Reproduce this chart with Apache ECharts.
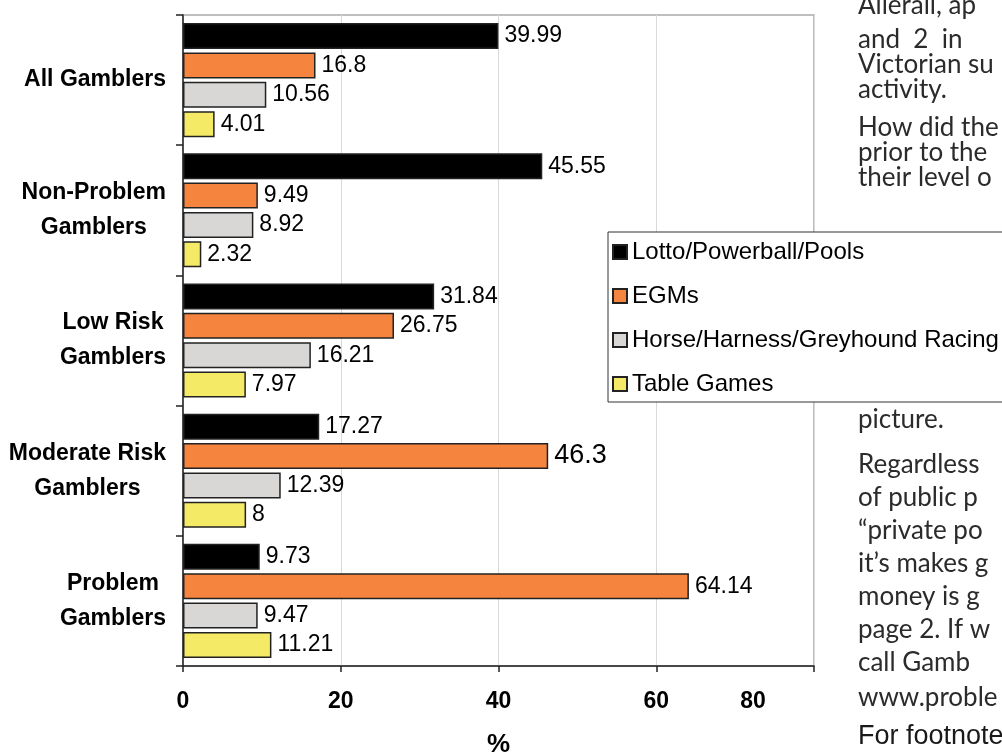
<!DOCTYPE html>
<html>
<head>
<meta charset="utf-8">
<script src="https://cdn.jsdelivr.net/npm/echarts@6/dist/echarts.min.js"></script>
<style>
html,body{margin:0;padding:0;background:#fff;}
#chart{width:1002px;height:755px;}
</style>
</head>
<body>
<div id="chart"></div>
<script>
// ---- data ----
const categories = ['All Gamblers', 'Non-Problem\nGamblers', 'Low Risk\nGamblers', 'Moderate Risk\nGamblers', 'Problem\nGamblers'];
const seriesNames = ['Lotto/Powerball/Pools', 'EGMs', 'Horse/Harness/Greyhound Racing', 'Table Games'];
const lotto = [39.99, 45.55, 31.84, 17.27, 9.73];
const egms = [16.8, 9.49, 26.75, 46.3, 64.14];
const racing = [10.56, 8.92, 16.21, 12.39, 9.47];
const tableGames = [4.01, 2.32, 7.97, 8, 11.21];
const xTicks = [0, 20, 40, 60, 80];
const axisName = '%';
const bodyLines = ['Allerall, ap', 'and  2  in', 'Victorian su', 'activity.', 'How did the', 'prior to the', 'their level o',
  'picture.', 'Regardless', 'of public p', '\u201Cprivate po', 'it\u2019s makes g', 'money is g', 'page 2. If w', 'call Gamb', 'www.proble'];
const footLine = 'For footnotes';

// ---- styles ----
const colors = ['#000000', '#F4843E', '#D8D7D5', '#F5EA66'];
const allValues = [lotto, egms, racing, tableGames];
const bigLabel = { series: 1, index: 3 };

const chart = echarts.init(document.getElementById('chart'), null, { renderer: 'canvas' });

const series = allValues.map((vals, si) => ({
  name: seriesNames[si],
  type: 'bar',
  barWidth: 26,
  barGap: '13%',
  itemStyle: { color: colors[si], borderColor: '#222', borderWidth: 1.5 },
  label: {
    show: true, position: 'right', distance: 6,
    color: '#000', fontFamily: 'Liberation Sans', fontSize: 23
  },
  data: vals.map((v, i) => (si === bigLabel.series && i === bigLabel.index)
    ? { value: v, label: { fontSize: 27 } } : v),
  z: 2
}));

const bodyMiddles = [6, 40, 65, 90, 128, 153, 178, 420, 465, 498, 531, 564, 597, 630, 663, 698];
const graphics = bodyLines.map((t, i) => ({
  type: 'text', x: 858, y: bodyMiddles[i], z: 0, silent: true,
  style: { text: t, fill: '#2b2b2b', font: '26px Lato', verticalAlign: 'middle', align: 'left' }
}));
graphics.push({
  type: 'text', x: 858, y: 737, z: 0, silent: true,
  style: { text: footLine, fill: '#1a1a1a', font: '27px "Liberation Sans Narrow", "Liberation Sans"', verticalAlign: 'middle' }
});

const option = {
  animation: false,
  backgroundColor: '#fff',
  grid: {
    left: 183, top: 15, right: 188, bottom: 89,
    show: true, borderColor: '#aaa', borderWidth: 1.5,
    containLabel: false, outerBoundsMode: 'none'
  },
  legend: {
    orient: 'vertical', left: 608, top: 232,
    backgroundColor: '#fff', borderColor: '#333', borderWidth: 1,
    padding: [8, 400, 6, 4],
    itemWidth: 14, itemHeight: 14, itemGap: 20,
    icon: 'rect',
    textStyle: { fontFamily: 'Liberation Sans', fontSize: 24, color: '#000', lineHeight: 22 },
    data: seriesNames,
    z: 20
  },
  xAxis: {
    type: 'value', min: xTicks[0], max: xTicks[xTicks.length - 1], interval: xTicks[1] - xTicks[0],
    name: axisName, nameLocation: 'middle', nameGap: 66,
    nameTextStyle: { fontFamily: 'Liberation Sans', fontWeight: 'bold', fontSize: 26, color: '#000' },
    axisLine: { show: true, lineStyle: { color: '#222', width: 1.5 } },
    axisTick: { show: true, length: 6, lineStyle: { color: '#222', width: 1.5 } },
    splitLine: { show: true, lineStyle: { color: '#d9d9d9', width: 1 } },
    axisLabel: {
      margin: 24, color: '#000', fontFamily: 'Liberation Sans', fontWeight: 'bold', fontSize: 23,
      formatter: v => v === xTicks[xTicks.length - 1] ? '{far|' + v + '}' : String(v),
      rich: { far: { padding: [0, 122, 0, 0], fontFamily: 'Liberation Sans', fontWeight: 'bold', fontSize: 23, color: '#000' } }
    }
  },
  yAxis: {
    type: 'category', data: categories, inverse: true,
    axisLine: { show: true, lineStyle: { color: '#222', width: 1.5 } },
    axisTick: { show: true, length: 7, lineStyle: { color: '#222', width: 1.5 } },
    splitLine: { show: false },
    axisLabel: {
      margin: 17, color: '#000',
      formatter: v => v.split('\n').map(l => '{c|' + l + '}').join('\n'),
      rich: { c: { align: 'center', fontFamily: 'Liberation Sans', fontWeight: 'bold', fontSize: 23, lineHeight: 35, color: '#000' } }
    }
  },
  graphic: graphics,
  series: series
};
chart.setOption(option);
</script>
</body>
</html>
